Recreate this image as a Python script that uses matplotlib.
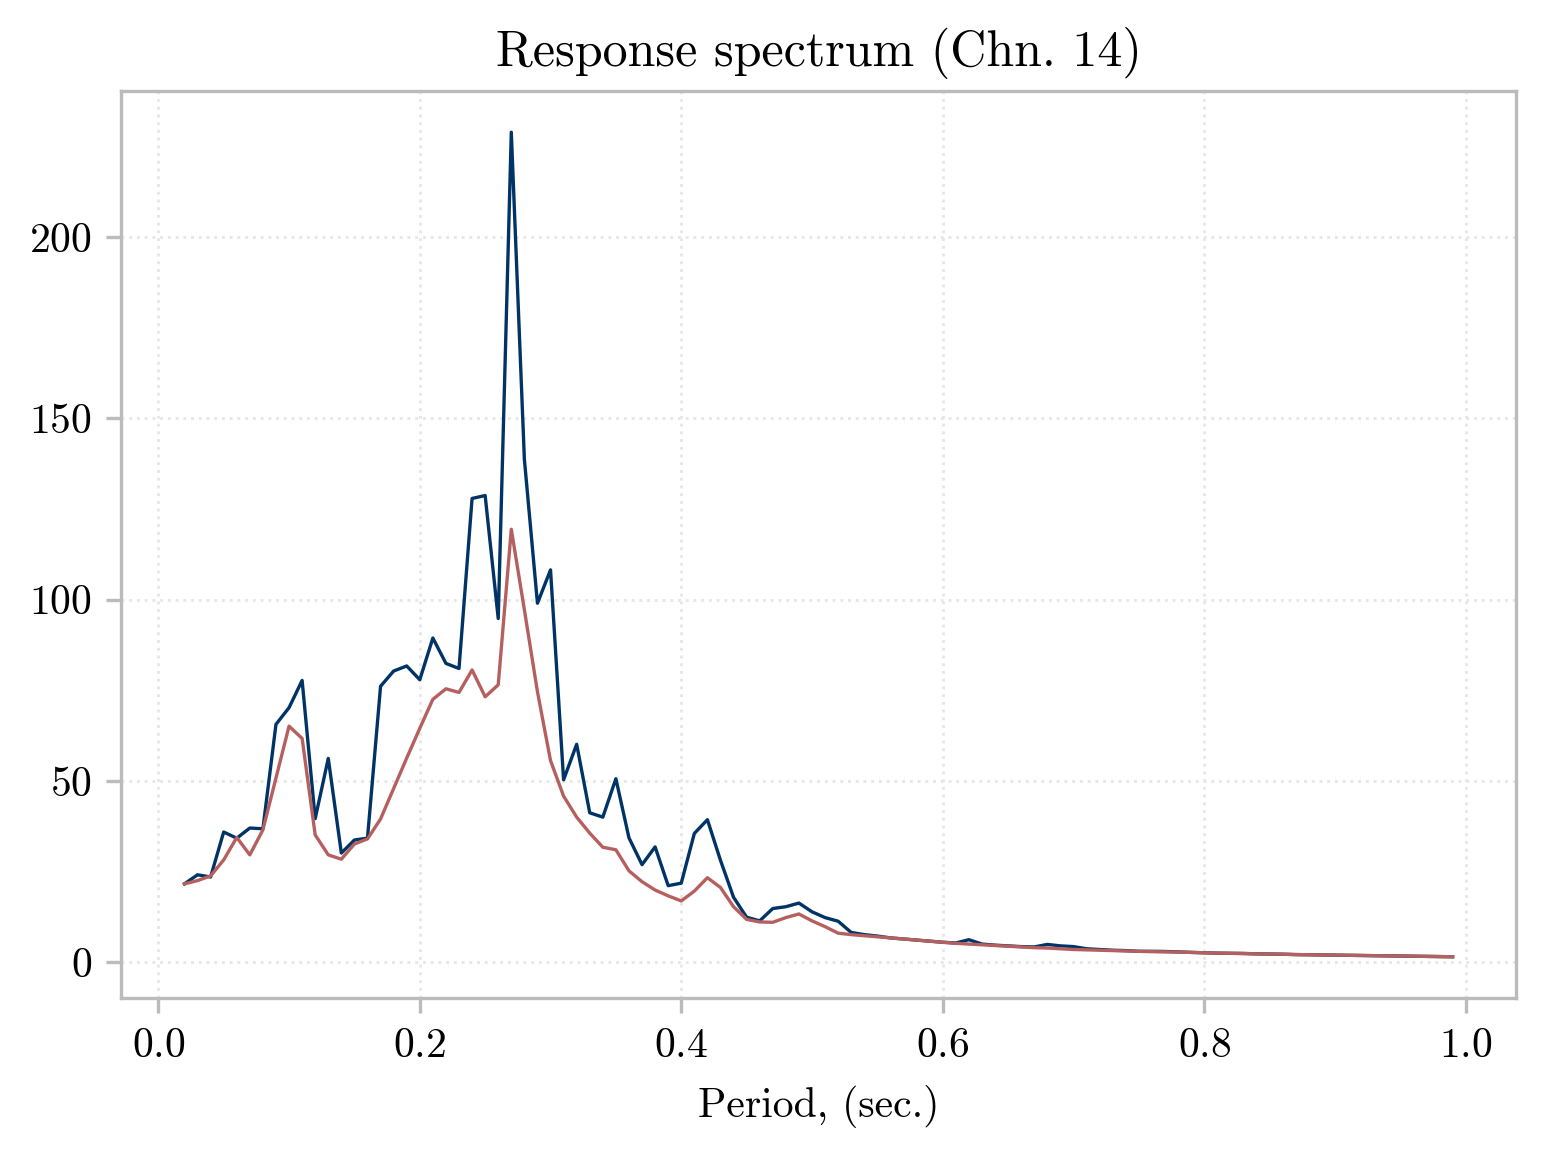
import numpy as np
import matplotlib
matplotlib.use("Agg")
import matplotlib.pyplot as plt

# periods (sec.)
period = np.round(np.arange(0.02, 1.00, 0.01), 2)

# spectral values, one per period
resp_a = [21.6, 24.1, 23.5, 35.9, 34.2, 37.0, 36.8, 65.6, 70.2, 77.7,
          39.6, 56.2, 30.1, 33.7, 34.2, 76.1, 80.3, 81.7, 77.9, 89.4,
          82.4, 81.0, 127.9, 128.7, 94.8, 228.9, 138.7, 99.0, 108.2, 50.3,
          60.1, 41.2, 40.0, 50.6, 34.3, 26.9, 31.8, 21.1, 21.8, 35.5,
          39.3, 28.1, 17.9, 12.4, 11.4, 14.8, 15.3, 16.3, 13.9, 12.3,
          11.3, 8.2, 7.6, 7.2, 6.7, 6.4, 6.1, 5.8, 5.5, 5.3,
          6.2, 5.0, 4.7, 4.5, 4.3, 4.2, 4.9, 4.5, 4.3, 3.7,
          3.5, 3.3, 3.2, 3.0, 3.0, 2.95, 2.85, 2.7, 2.6, 2.5,
          2.45, 2.4, 2.3, 2.25, 2.2, 2.1, 2.05, 2.0, 1.95, 1.9,
          1.85, 1.8, 1.75, 1.7, 1.65, 1.6, 1.55, 1.5]

resp_b = [21.6, 22.5, 23.8, 28.2, 34.4, 29.6, 36.5, 50.8, 65.1, 61.7,
          35.1, 29.6, 28.4, 32.6, 34.0, 39.5, 47.9, 56.3, 64.5, 72.5,
          75.4, 74.4, 80.6, 73.2, 76.5, 119.4, 97.2, 74.6, 55.6, 45.8,
          40.0, 35.6, 31.7, 31.0, 25.2, 22.2, 19.9, 18.3, 16.9, 19.6,
          23.3, 20.6, 15.3, 11.8, 11.1, 11.0, 12.3, 13.3, 11.4, 9.8,
          8.0, 7.6, 7.3, 7.0, 6.7, 6.4, 6.1, 5.8, 5.5, 5.2,
          5.0, 4.8, 4.6, 4.4, 4.2, 4.0, 3.9, 3.7, 3.5, 3.4,
          3.3, 3.2, 3.1, 3.0, 2.9, 2.85, 2.8, 2.7, 2.6, 2.5,
          2.45, 2.4, 2.3, 2.25, 2.2, 2.1, 2.05, 2.0, 1.95, 1.9,
          1.85, 1.8, 1.75, 1.7, 1.65, 1.6, 1.55, 1.5]

plt.rcParams['font.family'] = ['cmr10', 'DejaVu Serif']
plt.rcParams['mathtext.fontset'] = 'cm'
plt.rcParams['axes.formatter.use_mathtext'] = True

fig = plt.figure(figsize=(1546 / 300, 1152 / 300), dpi=300)
ax = fig.add_axes([0.0783, 0.1337, 0.9023, 0.7873])

ax.plot(period, resp_a, color='#003366', lw=0.8)
ax.plot(period, resp_b, color='#b5605f', lw=0.8)

ax.set_title("Response spectrum (Chn. 14)", fontsize=12)
ax.set_xlabel("Period, (sec.)", fontsize=10, labelpad=5)
ax.set_xticks([0.0, 0.2, 0.4, 0.6, 0.8, 1.0])
ax.set_yticks([0, 50, 100, 150, 200])
ax.tick_params(labelsize=10, color='#bbbbbb', length=3.5, width=0.8)
ax.grid(True, linestyle=':', color='#e8e8e8', lw=0.7)
for s in ax.spines.values():
    s.set_color('#bbbbbb')
    s.set_linewidth(0.8)

fig.savefig("out.png", dpi=300)
